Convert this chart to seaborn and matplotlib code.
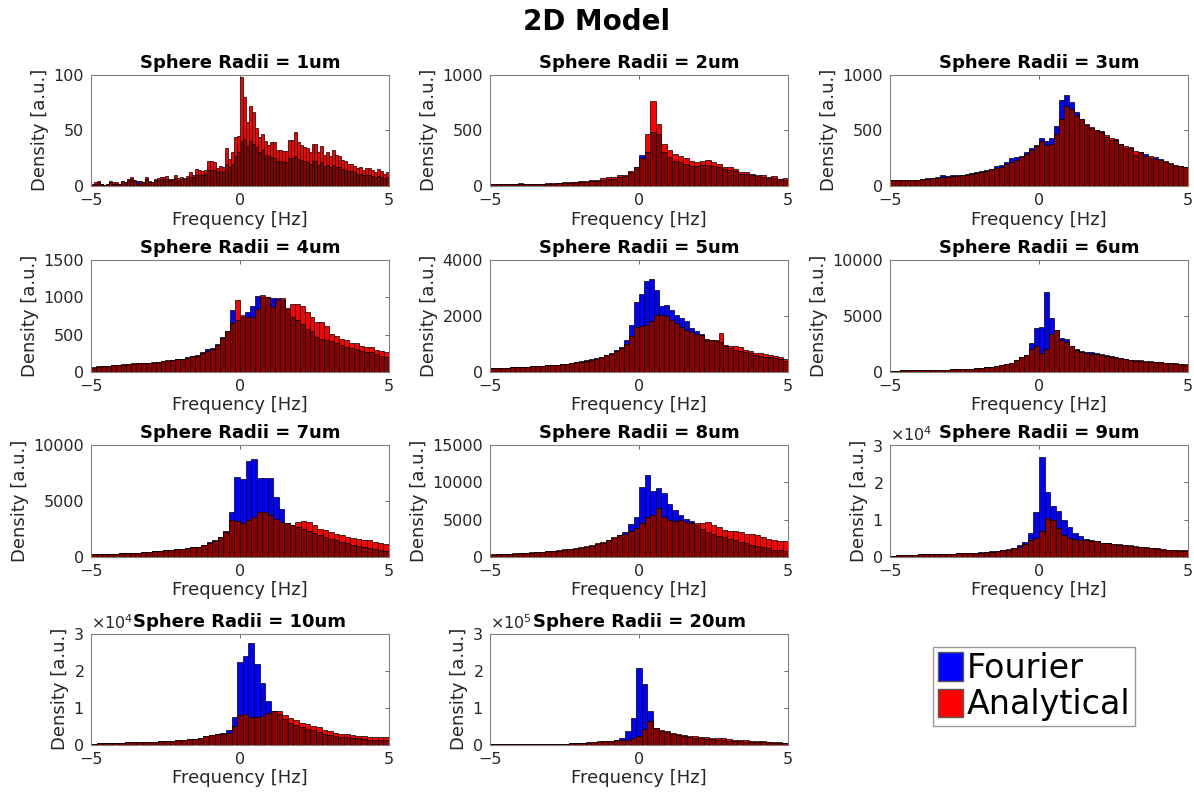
import numpy as np
import pandas as pd
import matplotlib
matplotlib.use("Agg")
import matplotlib.pyplot as plt
from matplotlib.patches import Patch
import seaborn as sns

# Sphere radii (um), one panel each
radii = [1, 2, 3, 4, 5, 6, 7, 8, 9, 10, 20]

# Histogram heights per bin over -5..5 Hz (bins spread evenly across the range)
fourier_1 = [1, 2, 3, 2, 1, 2, 3, 2, 2, 2,
             4, 3, 5, 6, 4, 4, 3, 3, 6, 3,
             3, 5, 5, 6, 6, 6, 5, 6, 7, 5,
             6, 6, 7, 8, 8, 10, 10, 10, 11, 14,
             14, 14, 12, 13, 13, 20, 17, 20, 27, 30,
             40, 42, 36, 40, 38, 35, 30, 32, 28, 27,
             26, 25, 22, 22, 21, 21, 25, 25, 27, 24,
             23, 22, 21, 20, 22, 22, 19, 21, 18, 19,
             17, 19, 17, 17, 15, 14, 13, 13, 12, 11,
             11, 10, 10, 10, 9, 8, 9, 8, 7, 8]
analytical_1 = [2, 3, 4, 2, 1, 2, 4, 3, 3, 2,
                4, 3, 6, 8, 5, 2, 4, 3, 8, 4,
                3, 6, 7, 8, 8, 9, 6, 5, 10, 7,
                8, 7, 9, 12, 10, 15, 14, 13, 14, 22,
                22, 21, 16, 18, 17, 34, 24, 30, 44, 45,
                98, 80, 57, 72, 66, 52, 44, 47, 40, 37,
                39, 39, 32, 32, 31, 31, 41, 41, 48, 39,
                37, 35, 34, 30, 38, 38, 30, 36, 28, 30,
                27, 32, 28, 27, 23, 22, 20, 20, 18, 16,
                17, 14, 16, 16, 14, 12, 15, 13, 11, 12]

fourier_2 = [15, 14, 12, 14, 16, 18, 15, 14, 15, 17,
             18, 20, 23, 26, 28, 30, 34, 37, 40, 45,
             55, 60, 65, 80, 90, 120, 165, 275, 300, 480,
             470, 300, 260, 225, 210, 195, 180, 175, 185, 190,
             180, 165, 150, 140, 130, 110, 105, 95, 90, 80,
             70, 70, 60, 55]
analytical_2 = [20, 18, 15, 17, 20, 22, 18, 17, 18, 20,
                22, 25, 28, 32, 35, 38, 42, 45, 50, 55,
                70, 75, 78, 95, 100, 130, 170, 250, 470, 760,
                555, 380, 320, 285, 265, 250, 225, 210, 225, 230,
                215, 195, 170, 165, 155, 120, 120, 110, 100, 95,
                80, 85, 65, 70]

fourier_3 = [55, 55, 55, 55, 52, 55, 62, 68, 72, 78,
             95, 85, 100, 95, 100, 110, 115, 125, 130, 140,
             155, 175, 190, 210, 250, 260, 270, 300, 340, 370,
             430, 400, 430, 540, 770, 820, 750, 660, 600, 550,
             520, 500, 490, 440, 410, 420, 380, 340, 340, 275,
             300, 290, 250, 260, 240, 210, 200, 180, 175, 170]
analytical_3 = [50, 55, 52, 55, 55, 52, 60, 65, 68, 72,
                75, 80, 85, 88, 95, 100, 110, 118, 125, 130,
                150, 160, 170, 200, 215, 230, 255, 290, 320, 360,
                400, 370, 380, 470, 600, 720, 690, 640, 600, 560,
                530, 500, 480, 460, 430, 410, 380, 360, 345, 310,
                300, 270, 265, 240, 235, 220, 205, 190, 180, 170]

fourier_4 = [55, 65, 70, 75, 85, 90, 95, 100, 105, 110,
             112, 112, 122, 130, 138, 148, 158, 168, 175, 195,
             210, 225, 260, 300, 320, 370, 470, 545, 830, 700,
             740, 800, 890, 1020, 1000, 1000, 990, 990, 960, 850,
             736, 700, 640, 573, 545, 464, 436, 423, 409, 382,
             359, 327, 320, 300, 277, 270, 259, 232, 209, 200]
analytical_4 = [60, 70, 75, 80, 85, 95, 100, 105, 110, 110,
                115, 110, 125, 135, 140, 150, 155, 165, 170, 190,
                205, 215, 250, 280, 310, 360, 450, 545, 660, 968,
                764, 732, 732, 845, 1040, 1010, 877, 970, 995, 860,
                914, 914, 886, 805, 740, 668, 668, 618, 505, 482,
                436, 423, 391, 391, 345, 327, 327, 286, 280, 268]

fourier_5 = [120, 125, 130, 140, 150, 160, 170, 175, 185, 195,
             210, 220, 235, 250, 270, 290, 310, 335, 365, 400,
             440, 490, 540, 600, 680, 780, 900, 1150, 1685, 2520,
             2800, 3260, 3345, 2945, 2375, 2412, 2218, 2048, 1927, 1830,
             1564, 1443, 1370, 1152, 1140, 1100, 1055, 933, 836, 776,
             751, 691, 655, 594, 570, 533, 509, 473, 448, 388]
analytical_5 = [120, 125, 130, 140, 150, 160, 170, 175, 185, 195,
                210, 220, 235, 250, 270, 290, 310, 330, 360, 390,
                430, 470, 520, 580, 640, 730, 850, 1000, 1285, 1612,
                1648, 1685, 1830, 2036, 2036, 2000, 1855, 1750, 1600, 1500,
                1420, 1370, 1300, 1160, 1140, 1140, 1394, 958, 933, 909,
                873, 788, 751, 680, 655, 630, 594, 570, 533, 448]

fourier_6 = [80, 90, 100, 100, 100, 110, 110, 120, 120, 130,
             140, 150, 200, 220, 230, 250, 270, 300, 330, 380,
             420, 480, 560, 650, 800, 1050, 1300, 1500, 2580, 3950,
             4000, 7200, 4850, 3700, 3000, 2900, 2300, 2000, 1850, 1800,
             1750, 1700, 1600, 1500, 1400, 1300, 1250, 1150, 1050, 1000,
             950, 900, 880, 850, 820, 780, 750, 720, 680, 620]
analytical_6 = [80, 90, 100, 100, 100, 110, 110, 120, 120, 130,
                140, 150, 200, 220, 230, 250, 270, 300, 330, 380,
                420, 480, 560, 650, 800, 1000, 1300, 1500, 2000, 2300,
                1700, 2000, 3400, 3750, 2800, 2700, 2300, 1950, 1750, 1650,
                1600, 1550, 1450, 1400, 1300, 1250, 1200, 1100, 1000, 950,
                1000, 980, 920, 880, 850, 800, 780, 750, 700, 650]

fourier_7 = [200, 200, 220, 240, 260, 280, 300, 320, 360, 400,
             430, 470, 500, 560, 620, 680, 720, 780, 820, 880,
             1050, 1300, 1500, 1800, 2300, 4000, 7200, 6950, 8600, 8800,
             7100, 7100, 7100, 5400, 4300, 3000, 2800, 2700, 2500, 2300,
             2100, 1900, 1750, 1600, 1450, 1300, 1200, 1050, 950, 850,
             750, 650, 600, 520]
analytical_7 = [200, 200, 220, 240, 260, 280, 300, 320, 360, 400,
                430, 470, 500, 560, 620, 680, 720, 780, 820, 860,
                1000, 1200, 1400, 1750, 2200, 3250, 3200, 3000, 3300, 3600,
                4000, 4000, 3700, 3400, 3100, 3000, 2800, 3100, 3200, 3100,
                2800, 2500, 2400, 2200, 2000, 1900, 1800, 1700, 1600, 1500,
                1450, 1300, 1200, 1100]

fourier_8 = [280, 300, 330, 360, 400, 440, 470, 520, 580, 640,
             700, 750, 820, 900, 980, 1080, 1200, 1300, 1450, 1700,
             1900, 2200, 2500, 2900, 3300, 4420, 5330, 9350, 11030, 8900,
             9200, 8620, 7160, 6340, 5560, 5100, 4800, 4200, 3700, 3300,
             3000, 2800, 2600, 2400, 2200, 2000, 1800, 1600, 1400, 1250,
             1100, 950, 850, 780]
analytical_8 = [300, 320, 350, 380, 420, 470, 500, 560, 620, 680,
                740, 800, 880, 960, 1050, 1150, 1300, 1400, 1550, 1800,
                2000, 2300, 2600, 2900, 3100, 3400, 3800, 4500, 5300, 5600,
                6500, 5300, 4900, 4800, 4900, 4700, 4600, 4500, 4600, 4700,
                4300, 4000, 3600, 3500, 3400, 3300, 3100, 3000, 2900, 2700,
                2400, 2200, 2100, 2100]

fourier_9 = [200, 300, 500, 500, 550, 600, 600, 650, 700, 700,
             750, 800, 900, 950, 1000, 1050, 1150, 1250, 1400, 1600,
             1800, 2100, 2400, 3000, 4000, 6300, 12000, 26900, 17500, 13700,
             12300, 9750, 7900, 6400, 5500, 4700, 4400, 4100, 3800, 3600,
             3400, 3200, 3100, 2900, 2700, 2600, 2400, 2300, 2100, 1900,
             1800, 1700, 1600, 1600]
analytical_9 = [200, 300, 500, 500, 550, 600, 600, 650, 700, 700,
                750, 800, 900, 950, 1000, 1050, 1100, 1200, 1300, 1500,
                1700, 1900, 2200, 2600, 3300, 4500, 5000, 6800, 10500, 9800,
                7700, 5700, 4900, 4800, 4600, 4500, 4300, 4100, 3800, 3600,
                3400, 3300, 3200, 3000, 2800, 2700, 2500, 2400, 2200, 2000,
                1900, 1800, 1700, 1700]

fourier_10 = [300, 350, 500, 550, 600, 600, 650, 650, 700, 750,
              800, 850, 900, 1000, 1100, 1200, 1300, 1450, 1600, 1900,
              2300, 2700, 2900, 3100, 4000, 7600, 22400, 23900, 27500, 21900,
              16700, 11800, 9000, 8200, 6900, 6000, 5400, 4700, 4300, 3900,
              3500, 3000, 2700, 2400, 2200, 2000, 1800, 1700, 1500, 1400,
              1300, 1200, 1200]
analytical_10 = [300, 350, 500, 550, 600, 600, 650, 650, 700, 750,
                 800, 850, 900, 1000, 1100, 1200, 1300, 1450, 1600, 1900,
                 2300, 2700, 2900, 3000, 3100, 5200, 8100, 8300, 7500, 7600,
                 7800, 8700, 9100, 9000, 8100, 7300, 6700, 6000, 5600, 5200,
                 4700, 4000, 3600, 3300, 3000, 2800, 2700, 2500, 2300, 2200,
                 2100, 2000, 2000]

fourier_20 = [1500, 1500, 1500, 1600, 1600, 1700, 1700, 1800, 1800, 1900,
              2000, 2100, 2200, 2600, 3800, 4300, 4800, 6000, 7500, 8500,
              9500, 11000, 13000, 18000, 36000, 73000, 208000, 163000, 92000, 45000,
              38000, 35000, 30000, 26000, 23000, 21000, 19000, 17500, 16000, 15000,
              13500, 12500, 11500, 10500, 9500, 8800, 8000, 7500, 7000, 6500,
              6000, 5500, 5000]
analytical_20 = [1500, 1500, 1500, 1600, 1600, 1700, 1700, 1800, 1800, 1900,
                 2000, 2100, 2200, 2600, 4000, 4500, 5000, 6500, 8000, 9000,
                 10000, 11000, 12000, 13000, 14000, 18000, 24000, 43000, 63000, 45000,
                 40000, 38000, 33000, 29000, 27000, 25000, 23000, 22000, 20000, 19000,
                 18000, 17000, 15000, 14000, 13000, 12000, 11000, 10000, 9000, 8000,
                 7000, 6500, 6000]

fourier = [fourier_1, fourier_2, fourier_3, fourier_4, fourier_5, fourier_6,
           fourier_7, fourier_8, fourier_9, fourier_10, fourier_20]
analytical = [analytical_1, analytical_2, analytical_3, analytical_4, analytical_5,
              analytical_6, analytical_7, analytical_8, analytical_9, analytical_10,
              analytical_20]

y_max = [100, 1000, 1000, 1500, 4000, 10000, 10000, 15000, 3e4, 3e4, 3e5]
y_ticks = [[0, 50, 100], [0, 500, 1000], [0, 500, 1000], [0, 500, 1000, 1500],
           [0, 2000, 4000], [0, 5000, 10000], [0, 5000, 10000],
           [0, 5000, 10000, 15000], [0, 1e4, 2e4, 3e4], [0, 1e4, 2e4, 3e4],
           [0, 1e5, 2e5, 3e5]]
x_ticks = [-5, 0, 5]
freq_range = (-5, 5)

BLUE, RED, OVERLAP = "#0000FF", "#FF0000", "#8A0000"

sns.set_style("white")
plt.rcParams["font.family"] = ["DejaVu Sans"]

fig = plt.figure(figsize=(11.94, 7.94), dpi=100)
lefts = [0.0762, 0.4104, 0.7454]
bottoms = [0.766, 0.532, 0.299, 0.062]
w, h = 0.2496, 0.140


def draw_hist(ax, values, color):
    n = len(values)
    lo, hi = freq_range
    step = (hi - lo) / n
    df = pd.DataFrame({"freq": lo + step * (np.arange(n) + 0.5),
                       "density": np.asarray(values, dtype=float)})
    sns.histplot(data=df, x="freq", weights="density", bins=n, binrange=freq_range,
                 stat="count", color=color, alpha=1, edgecolor="black",
                 linewidth=0.5, ax=ax)


for i, r in enumerate(radii):
    row, col = divmod(i, 3)
    ax = fig.add_axes([lefts[col], bottoms[row], w, h])
    f = np.asarray(fourier[i], dtype=float)
    a = np.asarray(analytical[i], dtype=float)
    draw_hist(ax, f, BLUE)
    draw_hist(ax, a, RED)
    draw_hist(ax, np.minimum(f, a), OVERLAP)

    ax.set_xlim(*freq_range)
    ax.set_ylim(0, y_max[i])
    ax.set_xticks(x_ticks)
    ax.set_yticks(y_ticks[i])
    if y_max[i] >= 3e4:
        ax.ticklabel_format(axis="y", style="sci", scilimits=(0, 0), useMathText=True)
        ax.yaxis.get_offset_text().set_fontsize(11.5)
        ax.yaxis.get_offset_text().set_color("0.15")

    for s in ax.spines.values():
        s.set_color("0.5")
        s.set_linewidth(0.8)
    ax.tick_params(direction="in", length=3, width=0.6, top=True, right=True,
                   color="0.3", labelcolor="0.15", labelsize=11.5)
    ax.tick_params(axis="x", pad=5)
    ax.tick_params(axis="y", pad=5)
    ax.set_title(f"Sphere Radii = {r}um", fontsize=13, fontweight="bold",
                 color="black", pad=5)
    ax.set_xlabel("Frequency [Hz]", fontsize=13, color="0.15", labelpad=2)
    ax.set_ylabel("Density [a.u.]", fontsize=13, color="0.15", labelpad=3)

fig.text(0.5, 0.972, "2D Model", ha="center", va="center",
         fontsize=20, fontweight="bold", color="black")

handles = [Patch(facecolor=BLUE, edgecolor="0.35", label="Fourier"),
           Patch(facecolor=RED, edgecolor="0.35", label="Analytical")]
leg = fig.legend(handles=handles, loc="center", bbox_to_anchor=(0.866, 0.135),
                 fontsize=24, frameon=True, fancybox=False, edgecolor="0.5",
                 handlelength=0.75, handleheight=0.95, handletextpad=0.1,
                 borderpad=0.15, labelspacing=0.1, borderaxespad=0,
                 labelcolor="black")
leg.get_frame().set_linewidth(1.0)

fig.savefig("out.png", dpi=100)
